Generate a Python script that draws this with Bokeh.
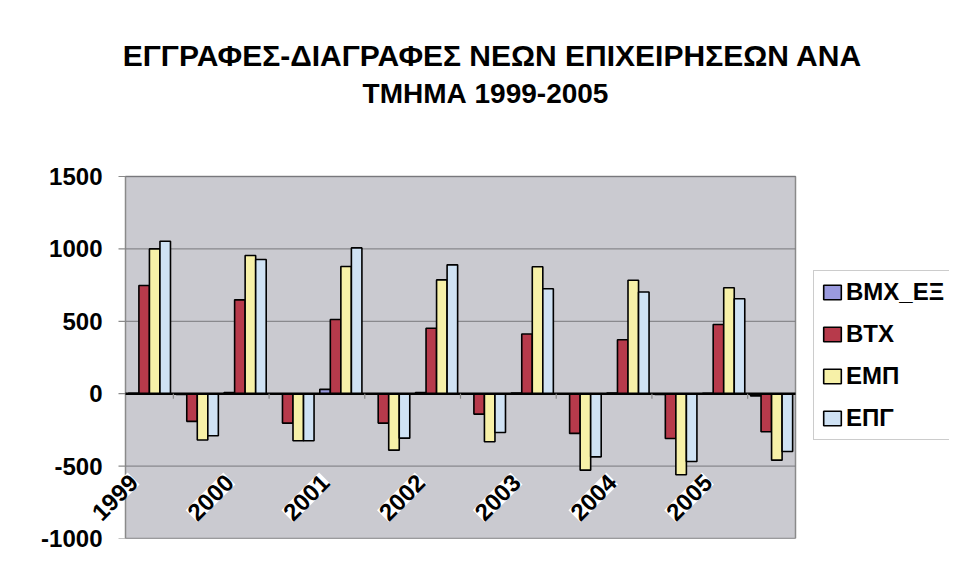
import math
from bokeh.plotting import figure
from bokeh.models import (Range1d, Label, LabelSet, ColumnDataSource, FixedTicker)
from bokeh.core.properties import value
from bokeh.embed import file_html
from bokeh.resources import INLINE

# ---------------- data ----------------
years = ["1999", "2000", "2001", "2002", "2003", "2004", "2005"]
# 14 categories: for each year, registrations (+) then deletions (-)
series_names = ["ΒΜΧ_ΕΞ", "ΒΤΧ", "ΕΜΠ", "ΕΠΓ"]
bmx = [3, -5, 8, -3, 30, -2, 8, -3, 5, -3, 5, -5, 3, -15]
btx = [747, -191, 648, -203, 512, -203, 452, -141, 412, -274, 373, -309, 478, -263]
emp = [1000, -320, 954, -325, 878, -390, 786, -332, 877, -528, 784, -560, 732, -459]
epg = [1053, -290, 927, -325, 1007, -307, 890, -268, 725, -436, 702, -468, 656, -399]
title_lines = ["ΕΓΓΡΑΦΕΣ-ΔΙΑΓΡΑΦΕΣ ΝΕΩΝ ΕΠΙΧΕΙΡΗΣΕΩΝ ΑΝΑ", "ΤΜΗΜΑ 1999-2005"]
y_ticks = [-1000, -500, 0, 500, 1000, 1500]

colors = ["#9A9ADE", "#B73A4B", "#F7F1A8", "#CFE2F4"]
FONT = "Liberation Sans"

n_cat = len(bmx)
y_min, y_max = y_ticks[0], y_ticks[-1]

# geometry of the canvas (pixels)
W, H = 949, 566
frame_left = 88          # frame starts left of the plot area so labels are not clipped
area_left, area_right = 125, 795
area_top, area_bottom = 176, 538
px_x = (area_right - area_left) / n_cat
px_y = (area_bottom - area_top) / (y_max - y_min)

x_lo = -(area_left - frame_left) / px_x
x_hi = n_cat + (W - area_right) / px_x
y_hi = y_max + area_top / px_y


def dx(px):
    return (px - area_left) / px_x


def dy(py):
    return y_max + (area_top - py) / px_y


p = figure(width=W, height=H, output_backend="svg", toolbar_location=None,
           x_range=Range1d(x_lo, x_hi), y_range=Range1d(y_min, y_hi),
           min_border_left=frame_left, min_border_right=0, min_border_top=0,
           min_border_bottom=H - area_bottom, title=None)
p.background_fill_color = "white"
p.border_fill_color = "white"
p.outline_line_color = None
p.xaxis.visible = False
p.xgrid.visible = False
p.ygrid.visible = False

# plot area
p.quad(left=0, right=n_cat, bottom=y_min, top=y_max, fill_color="#CACAD0",
       line_color="#8a8a8a", line_width=1.5)
# gridlines
p.segment(x0=[0] * len(y_ticks), y0=y_ticks, x1=[n_cat] * len(y_ticks), y1=y_ticks,
          line_color="#78787c", line_width=1)
# y tick marks
p.segment(x0=[0] * len(y_ticks), y0=y_ticks, x1=[-7 / px_x] * len(y_ticks), y1=y_ticks,
          line_color="#8a8a8a", line_width=1.2)

p.yaxis.ticker = FixedTicker(ticks=y_ticks)
p.yaxis.major_label_overrides = {t: str(t) for t in y_ticks}
p.yaxis.axis_line_color = None
p.yaxis.major_tick_line_color = None
p.yaxis.minor_tick_line_color = None
p.yaxis.major_label_text_font = FONT
p.yaxis.major_label_text_font_size = "24px"
p.yaxis.major_label_text_font_style = "bold"
p.yaxis.major_label_text_color = "black"
p.yaxis.major_label_standoff = -(108 - frame_left)

bar_w = 0.22
offsets = [-0.33, -0.11, 0.11, 0.33]
centers = [i + 0.5 for i in range(n_cat)]
for vals, name, col, off in zip([bmx, btx, emp, epg], series_names, colors, offsets):
    xs = [c + off for c in centers]
    src = ColumnDataSource(dict(left=[x - bar_w / 2 for x in xs],
                                right=[x + bar_w / 2 for x in xs],
                                top=vals, bottom=[0] * len(vals)))
    p.quad(left="left", right="right", top="top", bottom="bottom", source=src,
           fill_color=col, line_color="black", line_width=1.6,
           legend_label=name)

# category axis at zero
p.segment(x0=[0], y0=[0], x1=[n_cat], y1=[0], line_color="black", line_width=2.5)
tick_x = [i for i in range(1, n_cat, 2)]
p.segment(x0=tick_x, y0=[0] * len(tick_x), x1=tick_x, y1=[-5 / px_y] * len(tick_x),
          line_color="#8a8a8a", line_width=1.2)

# rotated year labels
lab_src = ColumnDataSource(dict(x=[2 * i + 0.17 for i in range(len(years))],
                                y=[-585] * len(years), text=years))
p.add_layout(LabelSet(x="x", y="y", text="text", source=lab_src,
                      angle=math.pi / 4, text_align="right", text_baseline="middle",
                      text_font=value(FONT), text_font_size=value("24px"),
                      text_font_style=value("bold"), text_color=value("black"),
                      background_fill_color=value("white")))

# title
for txt, (tx, ty), fs in zip(title_lines, [(492, 55), (485, 93)], ["30px", "28px"]):
    p.add_layout(Label(x=dx(tx), y=dy(ty), text=txt, text_align="center",
                       text_baseline="middle", text_font=FONT,
                       text_font_size=fs, text_font_style="bold",
                       text_color="black"))

# legend
lg = p.legend[0]
lg.location = (813 - frame_left, area_bottom - 440)
lg.background_fill_color = "white"
lg.background_fill_alpha = 1
lg.border_line_color = "#9a9a9a"
lg.border_line_width = 1
lg.label_text_font = FONT
lg.label_text_font_size = "24px"
lg.label_text_font_style = "bold"
lg.label_text_color = "black"
lg.glyph_width = 22
lg.glyph_height = 18
lg.label_height = 20
lg.spacing = 14
lg.padding = 7
lg.label_standoff = 3
lg.margin = 0

open("out.html", "w").write(file_html(p, INLINE))
